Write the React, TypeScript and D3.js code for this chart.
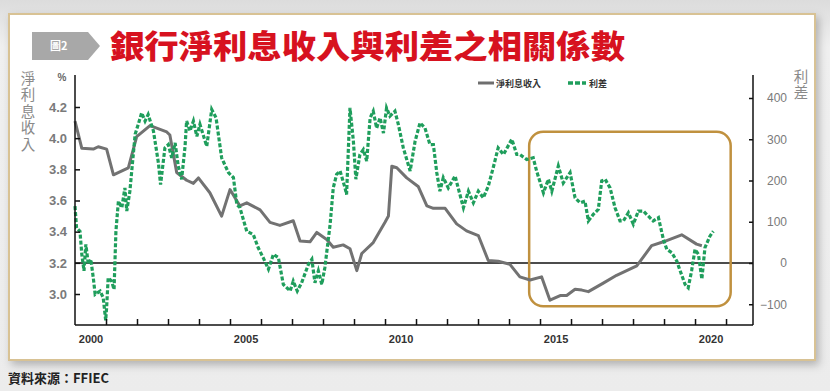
import * as d3 from "d3";
import { useEffect, useRef } from "react";

// net interest income (%), left axis
const niiYears = [2000.0, 2000.22, 2000.59, 2000.75, 2001.02, 2001.24, 2001.72, 2001.99, 2002.42, 2002.96, 2003.06, 2003.28, 2003.6, 2003.82, 2003.98, 2004.35, 2004.73, 2005.0, 2005.32, 2005.54, 2005.97, 2006.29, 2006.61, 2007.04, 2007.26, 2007.58, 2007.8, 2008.12, 2008.33, 2008.65, 2008.87, 2009.09, 2009.25, 2009.62, 2010.0, 2010.11, 2010.22, 2010.38, 2010.7, 2011.07, 2011.35, 2011.56, 2011.94, 2012.31, 2012.63, 2013.01, 2013.33, 2013.65, 2014.03, 2014.35, 2014.68, 2015.05, 2015.32, 2015.65, 2015.86, 2016.13, 2016.35, 2016.56, 2017.04, 2017.47, 2018.12, 2018.6, 2018.98, 2019.57, 2020.05, 2020.22];
const niiValues = [4.11, 3.935, 3.93, 3.945, 3.93, 3.765, 3.81, 4.01, 4.08, 4.04, 4.02, 3.78, 3.73, 3.71, 3.745, 3.65, 3.5, 3.67, 3.565, 3.585, 3.54, 3.46, 3.44, 3.47, 3.34, 3.335, 3.395, 3.35, 3.3, 3.315, 3.29, 3.15, 3.26, 3.33, 3.46, 3.5, 3.82, 3.81, 3.745, 3.69, 3.565, 3.55, 3.55, 3.45, 3.405, 3.375, 3.215, 3.21, 3.19, 3.11, 3.09, 3.11, 2.96, 2.99, 2.99, 3.03, 3.025, 3.015, 3.07, 3.12, 3.18, 3.31, 3.335, 3.38, 3.32, 3.31];

// spread (bp), right axis
const spreadYears = [2000.0, 2000.05, 2000.16, 2000.22, 2000.29, 2000.35, 2000.43, 2000.51, 2000.59, 2000.65, 2000.81, 2000.91, 2000.99, 2001.02, 2001.07, 2001.18, 2001.26, 2001.32, 2001.4, 2001.51, 2001.61, 2001.67, 2001.77, 2001.94, 2002.04, 2002.15, 2002.26, 2002.36, 2002.53, 2002.69, 2002.76, 2002.9, 2003.01, 2003.12, 2003.23, 2003.33, 2003.44, 2003.55, 2003.6, 2003.71, 2003.82, 2003.93, 2004.03, 2004.25, 2004.41, 2004.55, 2004.73, 2004.95, 2005.11, 2005.22, 2005.32, 2005.54, 2005.75, 2005.91, 2006.07, 2006.24, 2006.4, 2006.56, 2006.72, 2006.94, 2007.04, 2007.17, 2007.31, 2007.53, 2007.64, 2007.74, 2007.85, 2007.96, 2008.06, 2008.23, 2008.33, 2008.44, 2008.55, 2008.71, 2008.76, 2008.87, 2008.98, 2009.06, 2009.19, 2009.3, 2009.41, 2009.52, 2009.62, 2009.73, 2009.84, 2009.95, 2010.05, 2010.16, 2010.32, 2010.43, 2010.59, 2010.81, 2010.97, 2011.13, 2011.29, 2011.45, 2011.56, 2011.67, 2011.77, 2011.88, 2012.04, 2012.26, 2012.36, 2012.53, 2012.69, 2012.85, 2013.01, 2013.17, 2013.33, 2013.49, 2013.65, 2013.82, 2014.09, 2014.25, 2014.35, 2014.57, 2014.78, 2014.89, 2015.11, 2015.27, 2015.38, 2015.59, 2015.75, 2015.97, 2016.13, 2016.29, 2016.45, 2016.56, 2016.72, 2016.88, 2016.99, 2017.1, 2017.26, 2017.42, 2017.58, 2017.69, 2017.85, 2018.01, 2018.17, 2018.33, 2018.49, 2018.65, 2018.82, 2018.98, 2019.09, 2019.25, 2019.41, 2019.52, 2019.68, 2019.78, 2019.89, 2020.0, 2020.11, 2020.22, 2020.32, 2020.48, 2020.59];
const spreadValues = [138, 85, 77, 21, -19, 45, -3, 9, -36, -76, -68, -84, -139, -108, -36, -44, -64, 77, 150, 134, 182, 126, 174, 312, 336, 364, 344, 360, 320, 243, 190, 279, 287, 255, 291, 235, 203, 283, 344, 320, 344, 307, 336, 283, 372, 352, 255, 219, 207, 142, 134, 77, 69, 37, 13, -15, 21, 13, -52, -68, -44, -68, -48, -3, 9, -48, -19, -52, -11, 94, 182, 215, 223, 182, 166, 376, 295, 203, 263, 275, 247, 352, 368, 327, 352, 315, 376, 356, 368, 336, 279, 223, 295, 340, 327, 287, 287, 219, 174, 207, 182, 211, 182, 134, 174, 146, 174, 158, 186, 231, 279, 263, 300, 263, 263, 251, 255, 223, 170, 203, 174, 235, 194, 219, 158, 146, 150, 102, 118, 130, 199, 203, 182, 134, 102, 102, 122, 94, 126, 126, 114, 102, 110, 57, 33, 25, 5, -19, -52, -60, -19, 33, 21, -39, 37, 65, 77];

const leftTicks = [3.0, 3.2, 3.4, 3.6, 3.8, 4.0, 4.2];
const rightTicks = [-100, 0, 100, 200, 300, 400];
const yearTicks = d3.range(2001, 2022);
const yearLabels = [2000, 2005, 2010, 2015, 2020];
const highlightYears = [2014.65, 2021.15];
const highlightSpread = [-105, 318];

const title = "銀行淨利息收入與利差之相關係數";
const leftTitle = "淨利息收入";
const rightTitle = "利差";
const legendNames = ["淨利息收入", "利差"];
const source = "資料來源：FFIEC";

const W = 830;
const H = 391;
const numFont = "'Liberation Sans', Arial, sans-serif";
const cjkFont = "'Noto Sans CJK TC', 'Noto Sans', sans-serif";

export default function App() {
  const ref = useRef<SVGSVGElement>(null);

  useEffect(() => {
    const svg = d3.select(ref.current);
    svg.selectAll("*").remove();

    const x = d3.scaleLinear().domain([2000, 2021.87]).range([75, 753]);
    const yL = d3.scaleLinear().domain([3.0, 4.2]).range([294, 107]);
    const yR = d3.scaleLinear().domain([0, 400]).range([263, 98]);
    const top = 75;
    const bottom = 325;

    // page background + shadowed card
    const defs = svg.append("defs");
    const bg = defs.append("linearGradient").attr("id", "bg").attr("x1", 0).attr("y1", 0).attr("x2", 0).attr("y2", 1);
    bg.append("stop").attr("offset", "0%").attr("stop-color", "#dcdcdc");
    bg.append("stop").attr("offset", "12%").attr("stop-color", "#f0f0f0");
    bg.append("stop").attr("offset", "100%").attr("stop-color", "#ececec");
    const sh = defs.append("filter").attr("id", "shadow").attr("x", "-5%").attr("y", "-5%").attr("width", "110%").attr("height", "115%");
    sh.append("feDropShadow").attr("dx", 3).attr("dy", 4).attr("stdDeviation", 4).attr("flood-color", "#000").attr("flood-opacity", 0.25);

    svg.append("rect").attr("width", W).attr("height", H).attr("fill", "url(#bg)");
    svg.append("rect")
      .attr("x", 9).attr("y", 14).attr("width", 806).attr("height", 346)
      .attr("fill", "#fff").attr("stroke", "#d8c294").attr("stroke-width", 2)
      .attr("filter", "url(#shadow)");

    // title tag
    svg.append("polygon")
      .attr("points", "32,32 88,32 100,46 88,60 32,60")
      .attr("fill", "#a8a8a8");
    svg.append("text")
      .attr("x", 50).attr("y", 50)
      .attr("fill", "#fff").attr("font-family", cjkFont).attr("font-size", 11).attr("font-weight", "bold")
      .text("圖2");
    svg.append("text")
      .attr("x", 110).attr("y", 58)
      .attr("fill", "#d7121f").attr("font-family", cjkFont).attr("font-size", 32).attr("font-weight", "900")
      .attr("textLength", 515).attr("lengthAdjust", "spacingAndGlyphs")
      .text(title);

    // vertical axis titles
    const vtitle = (s: string, cx: number, y0: number) =>
      svg.append("text").attr("x", cx).attr("y", y0)
        .style("writing-mode", "vertical-rl").style("letter-spacing", "2px")
        .attr("font-family", cjkFont).attr("font-size", 14.5).attr("fill", "#8a8a8a").text(s);
    vtitle(leftTitle, 28, 71);
    vtitle(rightTitle, 801, 69);
    svg.append("text").attr("x", 62).attr("y", 81).attr("text-anchor", "middle")
      .attr("font-family", numFont).attr("font-size", 10).attr("font-weight", "bold").attr("fill", "#666").text("%");

    // legend
    const lg = svg.append("g").attr("font-family", cjkFont).attr("font-size", 9).attr("font-weight", "bold").attr("fill", "#333");
    lg.append("line").attr("x1", 478).attr("x2", 494).attr("y1", 83).attr("y2", 83).attr("stroke", "#6e6e6e").attr("stroke-width", 3);
    lg.append("text").attr("x", 496).attr("y", 86.5).text(legendNames[0]);
    lg.append("line").attr("x1", 568).attr("x2", 586).attr("y1", 83).attr("y2", 83).attr("stroke", "#1f9e5c").attr("stroke-width", 3.5).attr("stroke-dasharray", "5 2");
    lg.append("text").attr("x", 589).attr("y", 86.5).text(legendNames[1]);

    const chart = svg.append("g");

    // reference line at 3.2 / 0
    chart.append("line")
      .attr("x1", x(2000)).attr("x2", x(2021.87)).attr("y1", yR(0)).attr("y2", yR(0))
      .attr("stroke", "#111").attr("stroke-width", 1.5);

    // highlight box
    chart.append("rect")
      .attr("x", x(highlightYears[0])).attr("y", yR(highlightSpread[1]))
      .attr("width", x(highlightYears[1]) - x(highlightYears[0]))
      .attr("height", yR(highlightSpread[0]) - yR(highlightSpread[1]))
      .attr("rx", 14).attr("fill", "none").attr("stroke", "#c0913f").attr("stroke-width", 2.5);

    // net interest income line
    chart.append("path")
      .datum(niiYears.map((t, i) => [t, niiValues[i]]))
      .attr("fill", "none").attr("stroke", "#727272").attr("stroke-width", 3).attr("stroke-linejoin", "round")
      .attr("d", d3.line<number[]>().x((d) => x(d[0])).y((d) => yL(d[1])));

    // spread line
    chart.append("path")
      .datum(spreadYears.map((t, i) => [t, spreadValues[i]]))
      .attr("fill", "none").attr("stroke", "#1f9e5c").attr("stroke-width", 3.2).attr("stroke-dasharray", "4 2")
      .attr("d", d3.line<number[]>().x((d) => x(d[0])).y((d) => yR(d[1])));

    // axes
    const axisLine = (x1: number, y1: number, x2: number, y2: number) =>
      chart.append("line").attr("x1", x1).attr("y1", y1).attr("x2", x2).attr("y2", y2).attr("stroke", "#111").attr("stroke-width", 1.5);
    axisLine(x(2000), top, x(2000), bottom);
    axisLine(x(2021.87), top, x(2021.87), bottom);
    axisLine(x(2000), bottom, x(2021.87), bottom);

    const left = chart.append("g").attr("transform", `translate(${x(2000)},0)`)
      .call(d3.axisLeft(yL).tickValues(leftTicks).tickSize(-5).tickSizeOuter(0).tickPadding(8).tickFormat(d3.format(".1f")));
    left.select(".domain").remove();
    left.selectAll("line").attr("stroke", "#111").attr("stroke-width", 1.5);
    left.selectAll("text").attr("font-family", numFont).attr("font-size", 13).attr("font-weight", "bold").attr("fill", "#7a7a7a");

    const right = chart.append("g").attr("transform", `translate(${x(2021.87)},0)`)
      .call(d3.axisRight(yR).tickValues(rightTicks).tickSize(-4).tickSizeOuter(0).tickPadding(34));
    right.select(".domain").remove();
    right.selectAll("line").attr("stroke", "#111").attr("stroke-width", 1.5);
    right.selectAll("text").attr("text-anchor", "end").attr("font-family", numFont).attr("font-size", 12).attr("fill", "#7a7a7a");

    const bot = chart.append("g").attr("transform", `translate(0,${bottom})`)
      .call(d3.axisBottom(x).tickValues(yearTicks).tickSize(-6).tickSizeOuter(0).tickFormat(() => ""));
    bot.select(".domain").remove();
    bot.selectAll("line").attr("stroke", "#111").attr("stroke-width", 1.5);

    const lab = chart.append("g").attr("transform", `translate(0,${bottom})`)
      .call(d3.axisBottom(x)
        .tickValues(yearLabels.map((y) => y + 0.5)).tickSize(0).tickPadding(10).tickFormat((d) => String(Math.floor(+d))));
    lab.select(".domain").remove();
    lab.selectAll("text").attr("font-family", numFont).attr("font-size", 11).attr("font-weight", "bold").attr("fill", "#333");

    // source
    svg.append("text").attr("x", 8).attr("y", 383)
      .attr("font-family", cjkFont).attr("font-size", 13).attr("font-weight", "bold").attr("fill", "#222")
      .text(source);
  }, []);

  return (
    <svg ref={ref} width={W} height={H} style={{ position: "absolute", left: 0, top: 0 }}></svg>
  );
}
